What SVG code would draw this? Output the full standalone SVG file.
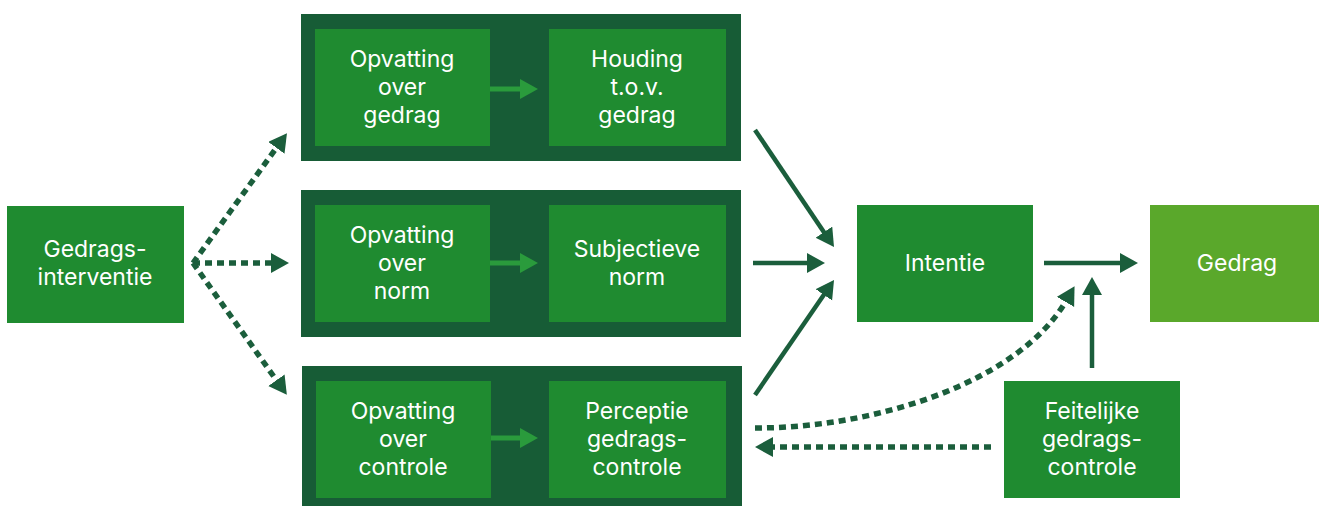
<svg xmlns="http://www.w3.org/2000/svg" width="1319" height="506" viewBox="0 0 1319 506">
<style>
.outer{fill:#175c36}
.inner{fill:#1f8b30}
.light{fill:#5aa82b}
text{font-family:Inter,"Open Sans","Liberation Sans",sans-serif;font-size:23px;fill:#ffffff;text-anchor:middle}
.solid{fill:none;stroke:#1b5e3c;stroke-width:4.5}
.dash{fill:none;stroke:#1b5e3c;stroke-width:5.5;stroke-dasharray:7 5}
.small{fill:none;stroke:#2a9b3c;stroke-width:5}
</style>
<defs>
<marker id="head" markerUnits="userSpaceOnUse" markerWidth="20" markerHeight="22" refX="1" refY="10" orient="auto">
<path d="M0,0 L18,10 L0,20 z" fill="#1b5e3c"/>
</marker>
<marker id="headSmall" markerUnits="userSpaceOnUse" markerWidth="20" markerHeight="22" refX="1" refY="10" orient="auto">
<path d="M0,0 L18,10 L0,20 z" fill="#2a9b3c"/>
</marker>
</defs>
<rect width="1319" height="506" fill="#ffffff"/>

<g id="groep-gedrag">
<rect class="outer" x="301" y="14" width="440" height="147"/>
<line class="small" x1="489" y1="89" x2="521" y2="89" marker-end="url(#headSmall)"/>
</g>
<g id="groep-norm">
<rect class="outer" x="301" y="190" width="440" height="147"/>
<line class="small" x1="489" y1="263" x2="521" y2="263" marker-end="url(#headSmall)"/>
</g>
<g id="groep-controle">
<rect class="outer" x="302" y="366" width="440" height="147"/>
<line class="small" x1="489" y1="438" x2="521" y2="438" marker-end="url(#headSmall)"/>
</g>

<g id="gedragsinterventie">
<rect class="inner" x="7" y="206" width="177" height="117"/>
<text x="95" y="256.5">Gedrags-</text>
<text x="95" y="284.5">interventie</text>
</g>
<g id="opvatting-gedrag">
<rect class="inner" x="315" y="29" width="175" height="117"/>
<text x="402" y="66.5">Opvatting</text>
<text x="402" y="94.5">over</text>
<text x="402" y="122.5">gedrag</text>
</g>
<g id="houding">
<rect class="inner" x="549" y="29" width="177" height="117"/>
<text x="637" y="66.5">Houding</text>
<text x="637" y="94.5">t.o.v.</text>
<text x="637" y="122.5">gedrag</text>
</g>
<g id="opvatting-norm">
<rect class="inner" x="315" y="205" width="175" height="117"/>
<text x="402" y="242.5">Opvatting</text>
<text x="402" y="270.5">over</text>
<text x="402" y="298.5">norm</text>
</g>
<g id="subjectieve-norm">
<rect class="inner" x="549" y="205" width="177" height="117"/>
<text x="637" y="256.5">Subjectieve</text>
<text x="637" y="284.5">norm</text>
</g>
<g id="opvatting-controle">
<rect class="inner" x="316" y="381" width="175" height="117"/>
<text x="403" y="418.5">Opvatting</text>
<text x="403" y="446.5">over</text>
<text x="403" y="474.5">controle</text>
</g>
<g id="perceptie">
<rect class="inner" x="549" y="381" width="177" height="117"/>
<text x="637" y="418.5">Perceptie</text>
<text x="637" y="446.5">gedrags-</text>
<text x="637" y="474.5">controle</text>
</g>
<g id="intentie">
<rect class="inner" x="857" y="205" width="176" height="117"/>
<text x="945" y="271">Intentie</text>
</g>
<g id="gedrag">
<rect class="light" x="1150" y="205" width="169" height="117"/>
<text x="1237" y="271">Gedrag</text>
</g>
<g id="feitelijke">
<rect class="inner" x="1004" y="381" width="176" height="117"/>
<text x="1092" y="418.5">Feitelijke</text>
<text x="1092" y="446.5">gedrags-</text>
<text x="1092" y="474.5">controle</text>
</g>

<g id="connectors">
<line class="dash" x1="193" y1="263" x2="277" y2="147" marker-end="url(#head)"/>
<line class="dash" x1="193" y1="263" x2="272" y2="263" marker-end="url(#head)"/>
<line class="dash" x1="193" y1="263" x2="277" y2="381" marker-end="url(#head)"/>
<line class="solid" x1="755" y1="130" x2="824.5" y2="233" marker-end="url(#head)"/>
<line class="solid" x1="753" y1="263" x2="808" y2="263" marker-end="url(#head)"/>
<line class="solid" x1="755" y1="395" x2="824.4" y2="294" marker-end="url(#head)"/>
<line class="solid" x1="1044" y1="263" x2="1121" y2="263" marker-end="url(#head)"/>
<line class="solid" x1="1092" y1="368" x2="1092" y2="294" marker-end="url(#head)"/>
<path class="dash" d="M755,428 C880,428 1020,380 1066,301" marker-end="url(#head)"/>
<line class="dash" x1="991" y1="447" x2="772" y2="447" marker-end="url(#head)"/>
</g>
</svg>
